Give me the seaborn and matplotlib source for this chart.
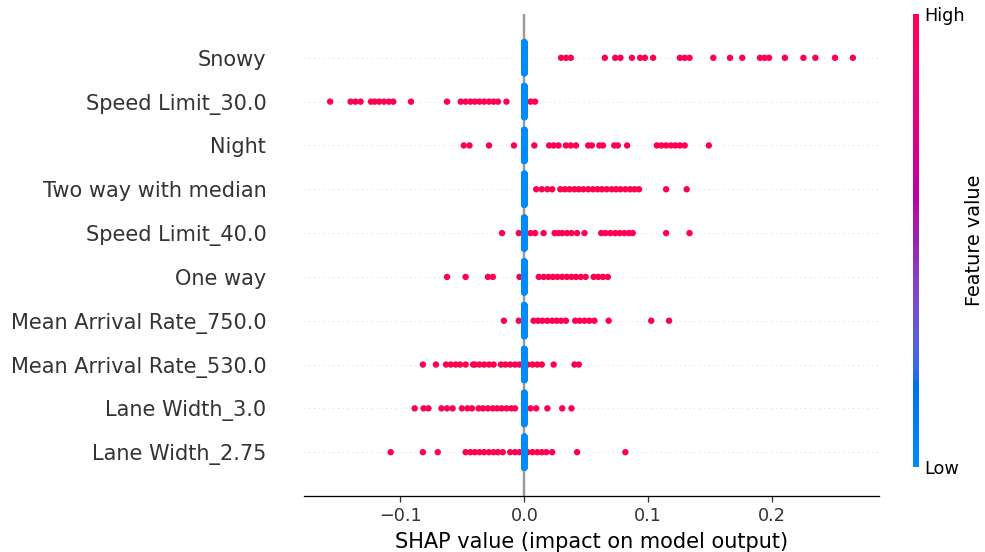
import numpy as np
import pandas as pd
import matplotlib
matplotlib.use("Agg")
import matplotlib.pyplot as plt
import seaborn as sns
from matplotlib.colors import LinearSegmentedColormap
from matplotlib.cm import ScalarMappable

# ---------------- data ----------------
features = ["Snowy", "Speed Limit_30.0", "Night", "Two way with median",
            "Speed Limit_40.0", "One way", "Mean Arrival Rate_750.0",
            "Mean Arrival Rate_530.0", "Lane Width_3.0", "Lane Width_2.75"]

snowy_high = [0.0297, 0.0336, 0.0375, 0.0650, 0.0734, 0.0776, 0.0869, 0.0935,
              0.0974, 0.1040, 0.1256, 0.1295, 0.1334, 0.1526, 0.1661, 0.1760,
              0.1903, 0.1940, 0.1976, 0.2104, 0.2254, 0.2350, 0.2509, 0.2653]
speed30_high = [-0.1568, -0.1403, -0.1364, -0.1322, -0.1238, -0.1209, -0.1172,
                -0.1133, -0.1094, -0.1058, -0.0915, -0.0624, -0.0513, -0.0474,
                -0.0435, -0.0399, -0.0362, -0.0324, -0.0285, -0.0248, -0.0213,
                -0.0144, 0.0050, 0.0087]
night_high = [-0.0489, -0.0443, -0.0285, -0.0084, 0.0081, 0.0201, 0.0237,
              0.0276, 0.0336, 0.0375, 0.0417, 0.0516, 0.0545, 0.0606, 0.0635,
              0.0726, 0.0755, 0.0830, 0.1070, 0.1107, 0.1145, 0.1184, 0.1220,
              0.1256, 0.1295, 0.1490]
twoway_high = [0.0096, 0.0141, 0.0186, 0.0225, 0.0291, 0.0327, 0.0365, 0.0405,
               0.0440, 0.0477, 0.0516, 0.0554, 0.0591, 0.0627, 0.0665, 0.0705,
               0.0740, 0.0776, 0.0816, 0.0854, 0.0890, 0.0926, 0.1145, 0.1311]
speed40_high = [-0.0180, -0.0045, 0.0050, 0.0087, 0.0156, 0.0245, 0.0276,
                0.0306, 0.0344, 0.0381, 0.0426, 0.0486, 0.0621, 0.0656, 0.0696,
                0.0734, 0.0770, 0.0807, 0.0845, 0.0875, 0.1145, 0.1334]
oneway_high = [-0.0624, -0.0474, -0.0294, -0.0254, -0.0039, 0.0117, 0.0156,
               0.0195, 0.0231, 0.0267, 0.0306, 0.0344, 0.0381, 0.0417, 0.0455,
               0.0495, 0.0560, 0.0597, 0.0635, 0.0674]
mar750_high = [-0.0165, -0.0045, 0.0075, 0.0111, 0.0146, 0.0186, 0.0225,
               0.0261, 0.0297, 0.0336, 0.0411, 0.0446, 0.0486, 0.0525, 0.0566,
               0.0681, 0.1025, 0.1169]
mar530_high = [-0.0819, -0.0714, -0.0632, -0.0594, -0.0554, -0.0519, -0.0474,
               -0.0414, -0.0399, -0.0362, -0.0324, -0.0285, -0.0248, -0.0189,
               -0.0152, -0.0114, -0.0075, -0.0039, 0.0027, 0.0066, 0.0105,
               0.0141, 0.0237, 0.0405, 0.0440]
lw3_high = [-0.0885, -0.0813, -0.0774, -0.0669, -0.0624, -0.0579, -0.0504,
            -0.0459, -0.0423, -0.0369, -0.0333, -0.0294, -0.0254, -0.0219,
            -0.0183, -0.0144, -0.0105, -0.0075, 0.0050, 0.0096, 0.0186, 0.0306,
            0.0381]
lw275_high = [-0.1079, -0.0819, -0.0699, -0.0474, -0.0435, -0.0399, -0.0362,
              -0.0324, -0.0285, -0.0248, -0.0213, -0.0174, -0.0114, -0.0075,
              -0.0039, 0.0027, 0.0066, 0.0105, 0.0141, 0.0177, 0.0225, 0.0426,
              0.0816]

high_shap = [snowy_high, speed30_high, night_high, twoway_high, speed40_high,
             oneway_high, mar750_high, mar530_high, lw3_high, lw275_high]
n_samples = 300          # samples per feature
low_shap = 0.0           # SHAP value of all low-feature-value samples

# ---------------- shap "red_blue" colormap (LCh interpolation) ----------------
def lab2rgb(L, a, b):
    fy = (L + 16.0) / 116.0
    fx = fy + a / 500.0
    fz = fy - b / 200.0
    finv = lambda t: np.where(t > 6 / 29, t ** 3, 3 * (6 / 29) ** 2 * (t - 4 / 29))
    X = 0.95047 * finv(fx)
    Y = finv(fy)
    Z = max(1.08883 * finv(fz), 0)
    M = np.array([[3.2406, -1.5372, -0.4986],
                  [-0.9689, 1.8758, 0.0415],
                  [0.0557, -0.2040, 1.0570]])
    lin = M @ np.array([X, Y, Z])
    rgb = np.where(lin > 0.0031308,
                   1.055 * np.power(np.clip(lin, 1e-12, None), 1 / 2.4) - 0.055,
                   12.92 * lin)
    return np.clip(rgb, 0, 1)

blue_lch = [54.0, 70.0, 4.6588]
red_lch = [54.0, 90.0, 0.35470565 + 2 * np.pi]
l_mid = 40.0
nsteps = 100
l_vals = list(np.linspace(blue_lch[0], l_mid, nsteps // 2)) + list(np.linspace(l_mid, red_lch[0], nsteps // 2))
c_vals = np.linspace(blue_lch[1], red_lch[1], nsteps)
h_vals = np.linspace(blue_lch[2], red_lch[2], nsteps)
cols = [lab2rgb(l, c * np.cos(h), c * np.sin(h)) for l, c, h in zip(l_vals, c_vals, h_vals)]
red_blue = LinearSegmentedColormap.from_list("red_blue", cols)

# ---------------- beeswarm layout (as in shap) ----------------
def swarm_offsets(shaps, row_height=0.4, nbins=100):
    shaps = np.asarray(shaps)
    N = len(shaps)
    quant = np.round(nbins * (shaps - shaps.min()) / (shaps.max() - shaps.min() + 1e-8))
    inds = np.argsort(quant, kind="stable")
    layer = 0
    last_bin = -1
    ys = np.zeros(N)
    for ind in inds:
        if quant[ind] != last_bin:
            layer = 0
        ys[ind] = np.ceil(layer / 2) * ((layer % 2) * 2 - 1)
        layer += 1
        last_bin = quant[ind]
    ys *= 0.9 * (row_height / np.max(ys + 1))
    return ys

frames = []
nf = len(features)
for i, (name, hi) in enumerate(zip(features, high_shap)):
    pos = nf - 1 - i
    lo = np.full(n_samples - len(hi), low_shap)
    shaps = np.concatenate([np.asarray(hi, float), lo])
    vals = np.concatenate([np.ones(len(hi)), np.zeros(len(lo))])
    ys = swarm_offsets(shaps)
    frames.append(pd.DataFrame({"shap": shaps, "y": pos + ys, "value": vals}))
df = pd.concat(frames, ignore_index=True)

# ---------------- plot ----------------
DPI = 115.5
fig = plt.figure(figsize=(985 / DPI, 552 / DPI), dpi=DPI)
ax = fig.add_axes([304 / 985, 56 / 552, 575 / 985, 482 / 552])
ax.axvline(x=0, color="#999999", zorder=-1)
for pos in range(nf):
    ax.axhline(y=pos, color="#cccccc", lw=0.5, dashes=(1, 5), zorder=-1)

sns.scatterplot(data=df, x="shap", y="y", hue="value", palette=red_blue,
                hue_norm=(0, 1), s=16, linewidth=0, legend=False, ax=ax, zorder=3)

axis_color = "#333333"
ax.set_yticks(range(nf))
ax.set_yticklabels(features[::-1], fontsize=13)
ax.set_ylim(-1, nf)
ax.set_xlabel("SHAP value (impact on model output)", fontsize=13)
ax.set_ylabel("")
ax.xaxis.set_ticks_position("bottom")
ax.yaxis.set_ticks_position("none")
for s in ["right", "top", "left"]:
    ax.spines[s].set_visible(False)
ax.tick_params(color=axis_color, labelcolor=axis_color)
ax.tick_params("y", length=20, width=0.5, which="major")
ax.tick_params("x", labelsize=11)

cax = fig.add_axes([913 / 985, (552 - 467) / 552, 6 / 985, 453 / 552])
sm = ScalarMappable(cmap=red_blue)
sm.set_array([0, 1])
cb = fig.colorbar(sm, cax=cax, ticks=[0, 1])
cb.set_ticklabels(["Low", "High"])
cb.set_label("Feature value", size=12, labelpad=0)
cb.ax.tick_params(labelsize=11, length=0)
cb.outline.set_visible(False)

fig.savefig("out.png", dpi=DPI)
